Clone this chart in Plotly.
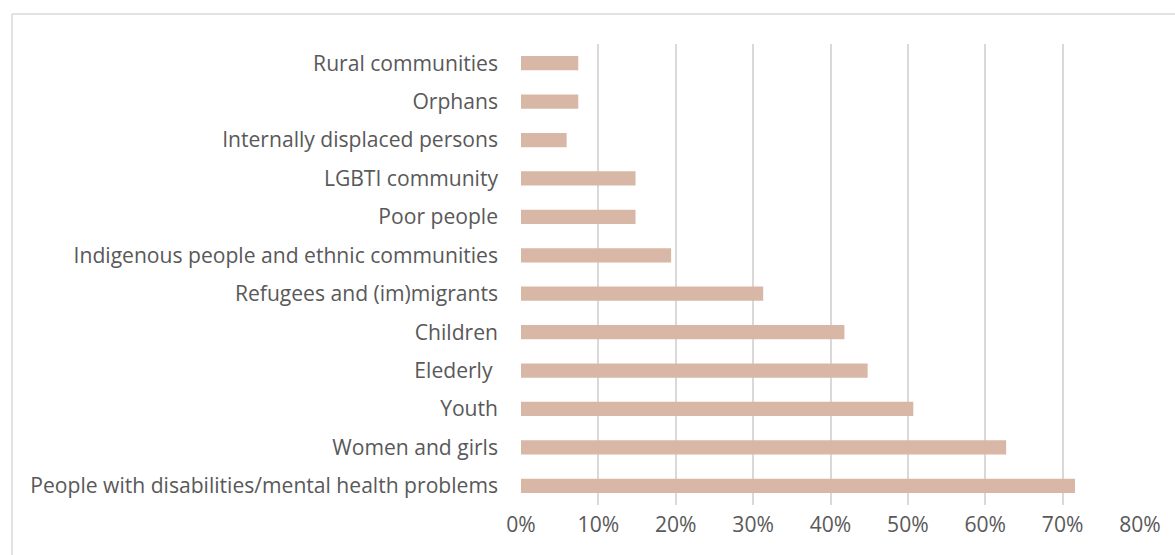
import plotly.graph_objects as go

categories = [
    "People with disabilities/mental health problems",
    "Women and girls",
    "Youth",
    "Elederly ",
    "Children",
    "Refugees and (im)migrants",
    "Indigenous people and ethnic communities",
    "Poor people",
    "LGBTI community",
    "Internally displaced persons",
    "Orphans",
    "Rural communities",
]
values = [71.6, 62.7, 50.7, 44.8, 41.8, 31.3, 19.4, 14.8, 14.8, 5.9, 7.4, 7.4]
tick_vals = [0, 10, 20, 30, 40, 50, 60, 70, 80]
tick_text = ["0%", "10%", "20%", "30%", "40%", "50%", "60%", "70%", "80%"]

W, H = 1175, 555
L, R, T, B = 521, 35, 44, 50
pw = W - L - R
ph = H - T - B

fig = go.Figure(go.Bar(
    y=categories, x=values, orientation="h",
    marker=dict(color="#d9b7a7", line=dict(width=0)),
    hoverinfo="x+y",
))

fig.update_layout(
    width=W, height=H,
    margin=dict(l=L, r=R, t=T, b=B, pad=0),
    paper_bgcolor="white", plot_bgcolor="white",
    bargap=0.63,
    showlegend=False,
    font=dict(family="Open Sans, sans-serif", size=21.1, color="#595959"),
    xaxis=dict(
        range=[0, 80], tickvals=tick_vals, ticktext=tick_text,
        showgrid=True, gridcolor="#d9d9d9", gridwidth=1.5,
        zeroline=False, showline=False, ticks="",
        ticklabelstandoff=5,
        fixedrange=True,
    ),
    yaxis=dict(
        categoryorder="array", categoryarray=categories,
        showgrid=False, zeroline=False, showline=False, ticks="",
        ticklabelstandoff=22,
        fixedrange=True,
    ),
    shapes=[
        dict(type="line", xref="paper", yref="paper",
             x0=(12 - L) / pw, x1=(W + 5 - L) / pw,
             y0=1 + (T - 14) / ph, y1=1 + (T - 14) / ph,
             line=dict(color="#d9d9d9", width=1.5)),
        dict(type="line", xref="paper", yref="paper",
             x0=(12 - L) / pw, x1=(12 - L) / pw,
             y0=1 + (T - 14) / ph, y1=-(B + 5) / ph,
             line=dict(color="#d9d9d9", width=1.5)),
    ],
)

fig.write_html("out.html")
